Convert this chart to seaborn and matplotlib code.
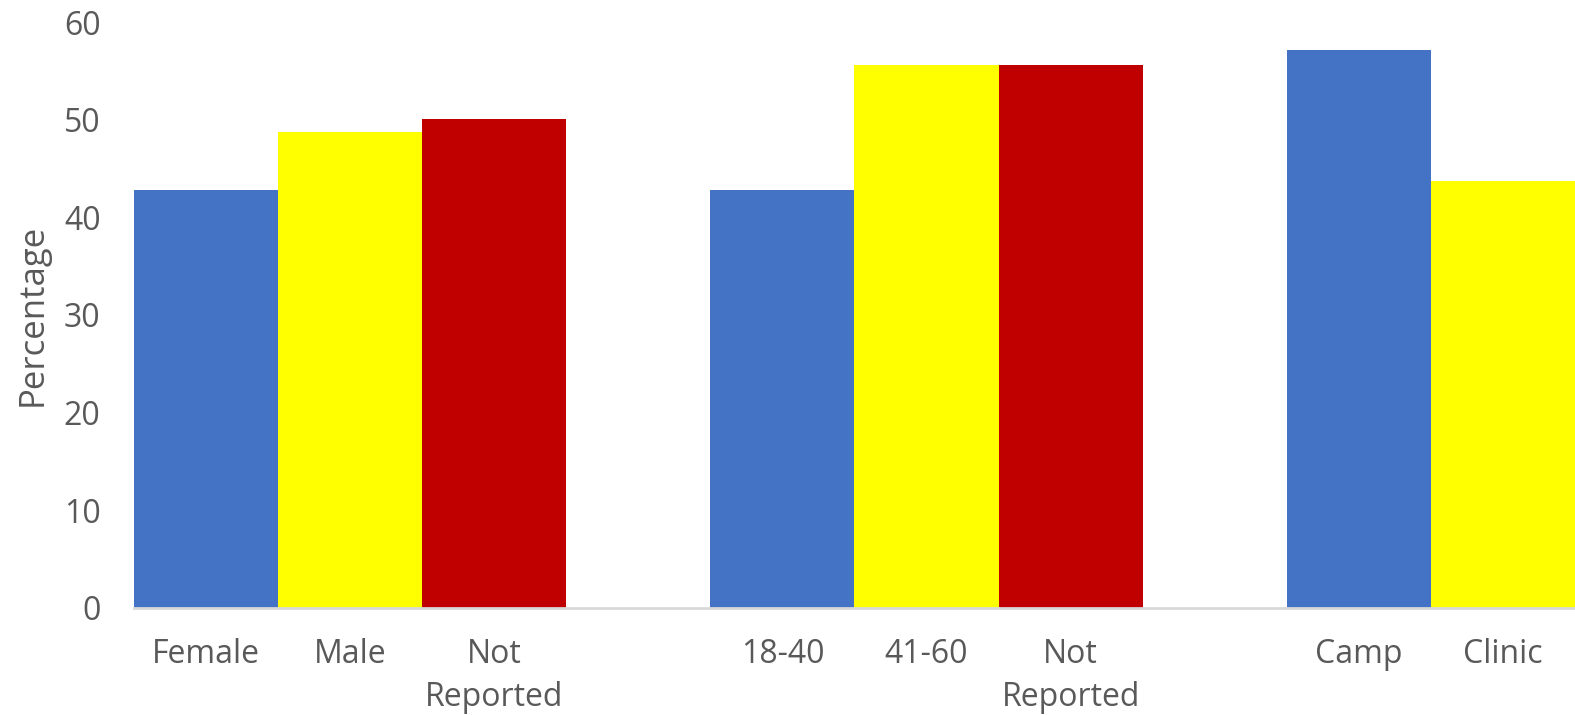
import matplotlib
matplotlib.use("Agg")
import matplotlib.pyplot as plt
import seaborn as sns
import pandas as pd

# Bar categories (unique keys), their shown labels, values and colours
keys = ["female", "male", "sex_nr", "gap1", "age_18_40", "age_41_60", "age_nr", "gap2", "camp", "clinic"]
labels = ["Female", "Male", "Not\nReported", "", "18-40", "41-60", "Not\nReported", "", "Camp", "Clinic"]
values = [42.8, 48.7, 50.1, 0.0, 42.8, 55.6, 55.6, 0.0, 57.1, 43.7]
colors = ["#4472C4", "#FFFF00", "#C00000", "#FFFFFF", "#4472C4", "#FFFF00", "#C00000", "#FFFFFF", "#4472C4", "#FFFF00"]
yticks = [0, 10, 20, 30, 40, 50, 60]

sns.set_theme(style="white")
plt.rcParams["font.family"] = ["Open Sans", "DejaVu Sans"]

df = pd.DataFrame({"key": keys, "value": values})

fig = plt.figure(figsize=(15.75, 7.15), dpi=100)
ax = fig.add_axes([0.085, 0.15, 0.915, 0.819])

sns.barplot(data=df, x="key", y="value", hue="key", order=keys, hue_order=keys,
            palette=dict(zip(keys, colors)), width=1.0, legend=False,
            saturation=1.0, linewidth=0, ax=ax)

ax.set_xlim(-0.5, len(keys) - 0.5)
ax.set_ylim(0, 60)
ax.set_yticks(yticks)
ax.set_yticklabels([str(t) for t in yticks])
ax.set_xticks(range(len(keys)))
ax.set_xticklabels(labels, linespacing=1.4)

text_color = "#595959"
ax.tick_params(axis="both", length=0, labelsize=23, colors=text_color)
ax.tick_params(axis="x", pad=22)
ax.tick_params(axis="y", pad=24)
for lab in ax.get_xticklabels():
    lab.set_verticalalignment("top")

ax.set_xlabel("")
ax.set_ylabel("Percentage", fontsize=25, color=text_color, labelpad=10)

for side in ["top", "right", "left"]:
    ax.spines[side].set_visible(False)
ax.spines["bottom"].set_color("#D9D9D9")
ax.spines["bottom"].set_linewidth(2)

fig.savefig("out.png", dpi=100)
